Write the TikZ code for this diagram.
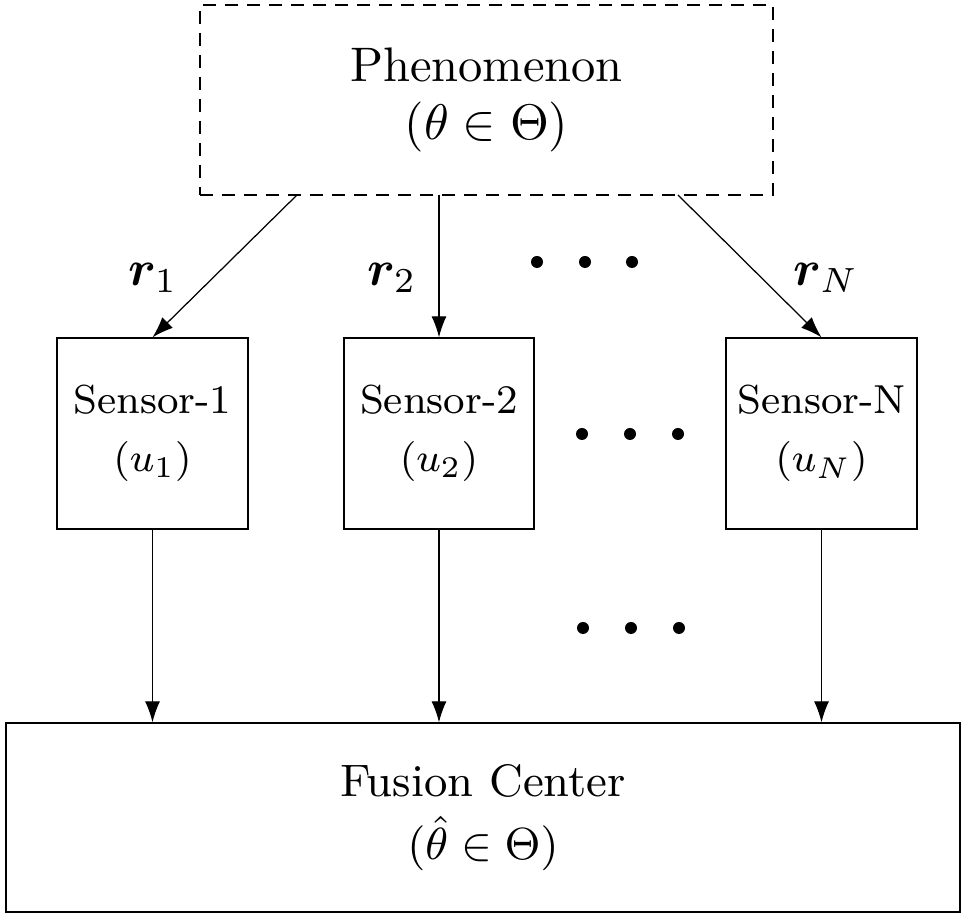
\documentclass[tikz,border=0pt]{standalone}
\usepackage{bm}
\usetikzlibrary{arrows.meta}
\begin{document}
\begin{tikzpicture}[x=0.2pt,y=-0.2pt,
  box/.style={draw,line width=0.25pt,inner sep=0pt,align=center},
  arr/.style={line width=0.25pt,-{Latex[length=4.2pt,width=3pt]}},
  dotc/.style={fill=black,draw=none,circle,inner sep=0pt,minimum size=2.4pt},
  big/.style={font=\fontsize{9.7pt}{11.7pt}\selectfont},
  mid/.style={font=\fontsize{9.1pt}{12.6pt}\selectfont},
  small/.style={font=\fontsize{8.1pt}{11.6pt}\selectfont}]
\useasboundingbox (0,0) rectangle (961,916);
\node[box,big,dash pattern=on 2.6pt off 1.8pt,minimum width=114.6pt,minimum height=38pt] (phen) at (486.5,100) {Phenomenon\\$(\theta\in\Theta)$};
\node[box,small,minimum width=38.2pt,minimum height=38.2pt] (s1) at (152.5,433.5) {Sensor-1\\$(u_1)$};
\node[box,small,minimum width=38pt,minimum height=38.2pt] (s2) at (439,433.5) {Sensor-2\\$(u_2)$};
\node[box,small,minimum width=38.2pt,minimum height=38.2pt] (sN) at (821.5,433.5) {Sensor-N\\$(u_N)$};
\node[box,mid,minimum width=190.8pt,minimum height=37.8pt] (fc) at (483,817.5) {Fusion Center\\$(\hat{\theta}\in\Theta)$};
\coordinate (p1) at (297,195);
\coordinate (p2) at (439,195);
\coordinate (pN) at (678,195);
\draw[arr] (p1) -- (s1.north);
\draw[arr] (p2) -- (s2.north);
\draw[arr] (pN) -- (sN.north);
\draw[arr] (s1.south) -- (s1.south |- fc.north);
\draw[arr] (s2.south) -- (s2.south |- fc.north);
\draw[arr] (sN.south) -- (sN.south |- fc.north);
\node[big] (l1) at (153,278) {$\bm{r}_1$};
\node[big] (l2) at (392,278) {$\bm{r}_2$};
\node[big] (lN) at (826,278) {$\bm{r}_N$};
\foreach \x [count=\i] in {537,585,632} \node[dotc] (da\i) at (\x,262) {};
\foreach \x [count=\i] in {582,630,678} \node[dotc] (db\i) at (\x,434) {};
\foreach \x [count=\i] in {583,631,679} \node[dotc] (dc\i) at (\x,628) {};
\end{tikzpicture}
\end{document}
